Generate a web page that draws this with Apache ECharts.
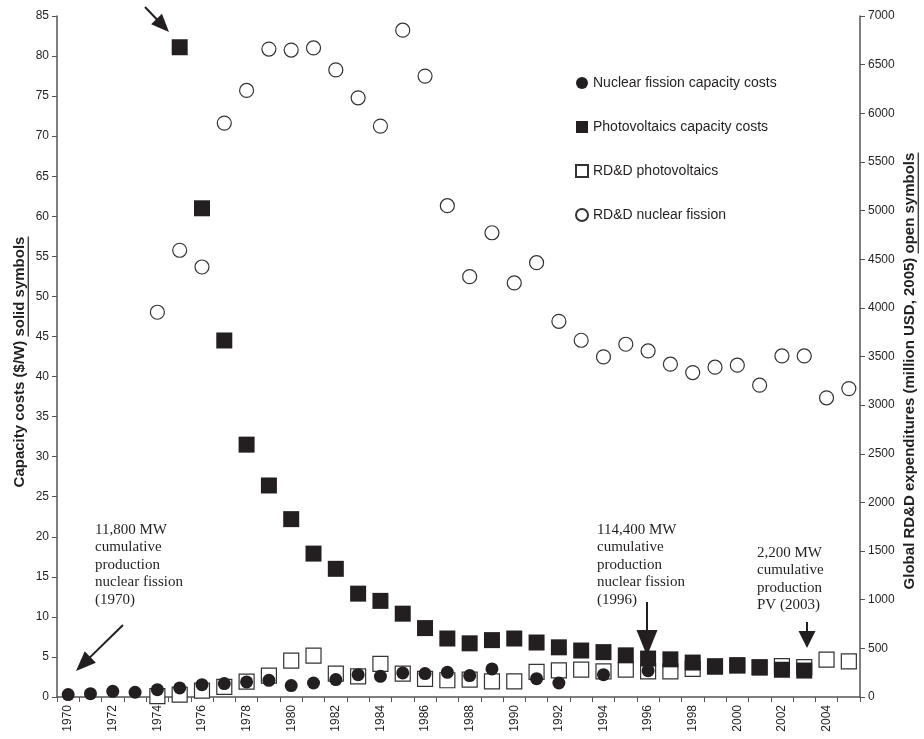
<!DOCTYPE html>
<html>
<head>
<meta charset="utf-8">
<script src="https://cdn.jsdelivr.net/npm/echarts@6/dist/echarts.min.js"></script>
<style>
html,body{margin:0;padding:0;background:#fff;}
#chart{width:924px;height:739px;}
</style>
</head>
<body>
<div id="chart"></div>
<script>
const years = ['1970','1971','1972','1973','1974','1975','1976','1977','1978','1979',
  '1980','1981','1982','1983','1984','1985','1986','1987','1988','1989',
  '1990','1991','1992','1993','1994','1995','1996','1997','1998','1999',
  '2000','2001','2002','2003','2004','2005'];

// Capacity costs ($/W), left axis
const nuclearCost = [0.3,0.42,0.71,0.59,0.92,1.13,1.54,1.67,1.88,2.08,
  1.42,1.75,2.17,2.79,2.58,3.0,2.92,3.08,2.67,3.5,
  null,2.29,1.75,null,2.79,null,3.29,null,null,null,
  null,null,null,null,null,null];
const pvCost = [null,null,null,null,null,81.1,61.0,44.5,31.5,26.4,
  22.2,17.9,16.0,12.9,12.0,10.4,8.6,7.3,6.7,7.1,
  7.3,6.8,6.2,5.8,5.6,5.2,4.8,4.7,4.3,3.8,
  3.95,3.7,3.4,3.3,null,null];

// Global RD&D expenditures (million USD 2005), right axis
const pvRDD = [null,null,null,null,10,25,66,104,158,220,
  374,425,240,213,340,240,186,172,179,161,
  161,258,274,281,264,281,264,264,290,315,
  325,305,317,307,384,367];
const nuclearRDD = [null,null,null,null,3955,4592,4420,5899,6235,6660,
  6650,6672,6446,6159,5868,6854,6382,5050,4321,4772,
  4256,4464,3862,3667,3496,3626,3557,3421,3335,3390,
  3411,3205,3506,3506,3075,3170];

const leftTicks = {min:0, max:85, interval:5};
const rightTicks = {min:0, max:7000, interval:500};

const seriesNames = ['Nuclear fission capacity costs','Photovoltaics capacity costs','RD&D photovoltaics','RD&D nuclear fission'];
const leftName = ['Capacity costs ($/W) ', 'solid symbols'];
const rightName = ['Global RD&D expenditures (million USD, 2005) ', 'open symbols'];

const annotations = [
  {text:'11,800 MW\ncumulative\nproduction\nnuclear fission\n(1970)', x:95, y:521},
  {text:'114,400 MW\ncumulative\nproduction\nnuclear fission\n(1996)', x:597, y:521},
  {text:'2,200 MW\ncumulative\nproduction\nPV (2003)', x:757, y:544}
];
const arrows = [
  {from:[123,625], to:[76,671], len:20, w:16},
  {from:[647,602], to:[647,656], len:26, w:21},
  {from:[807,622], to:[807,648], len:17, w:17},
  {from:[145,7], to:[169,32], len:18, w:15}
];

const INK = '#231f20';
const serif = '"Liberation Serif", "Times New Roman", serif';
const sans = '"Liberation Sans", Arial, sans-serif';
const NAME_SIZE = 15;
const GRID = {left:57, right:64, top:16, bottom:42};

function arrowGraphics(a){
  const dx = a.to[0]-a.from[0], dy = a.to[1]-a.from[1];
  const L = Math.sqrt(dx*dx+dy*dy);
  const ux = dx/L, uy = dy/L;
  const bx = a.to[0]-ux*a.len, by = a.to[1]-uy*a.len;
  const px = -uy*a.w/2, py = ux*a.w/2;
  return [
    {type:'line', shape:{x1:a.from[0], y1:a.from[1], x2:bx+ux*2, y2:by+uy*2}, style:{stroke:INK, lineWidth:2}},
    {type:'polygon', shape:{points:[[a.to[0],a.to[1]],[bx+px,by+py],[bx-px,by-py]]}, style:{fill:INK}}
  ];
}

// measure text for underline placement
const mctx = document.createElement('canvas').getContext('2d');
mctx.font = 'bold ' + NAME_SIZE + 'px ' + sans;
function tw(s){ return mctx.measureText(s).width; }

const graphics = [];
annotations.forEach(t=>{
  graphics.push({type:'text', left:t.x, top:t.y, style:{text:t.text, font:'15px '+serif, fill:INK, lineHeight:17.5}});
});
arrows.forEach(a=>{ arrowGraphics(a).forEach(g=>graphics.push(g)); });

// axis titles drawn as rotated text with underline on the second part
function axisTitle(parts, cx, cy){
  const full = parts[0] + parts[1];
  const total = tw(full), wu = tw(parts[1]);
  const topY = cy - total/2;
  graphics.push({type:'text', x:cx, y:cy, rotation:Math.PI/2,
    style:{text:full, font:'bold '+NAME_SIZE+'px '+sans, fill:INK, align:'center', verticalAlign:'middle'}});
  const ux = cx + NAME_SIZE*0.55;
  graphics.push({type:'line', shape:{x1:ux, y1:topY, x2:ux, y2:topY+wu}, style:{stroke:INK, lineWidth:1.2}});
}
axisTitle(leftName, 20, 362);
axisTitle(rightName, 910, 371);

const chart = echarts.init(document.getElementById('chart'));
const axisLabelStyle = {color:INK, fontSize:12, fontFamily:sans};
chart.setOption({
  animation:false,
  backgroundColor:'#fff',
  grid:Object.assign({outerBoundsMode:'none', containLabel:false}, GRID),
  legend:{
    orient:'vertical', left:570, top:71, itemGap:30, itemWidth:12, itemHeight:12,
    data:seriesNames,
    textStyle:{color:INK, fontSize:14, fontFamily:sans}
  },
  xAxis:{
    type:'category', data:years, boundaryGap:true,
    axisLine:{lineStyle:{color:'#555', width:1.5}},
    axisTick:{show:true, interval:0, length:5, lineStyle:{color:'#555'}},
    axisLabel:Object.assign({rotate:90, interval:1, margin:8}, axisLabelStyle),
    splitLine:{show:false}
  },
  yAxis:[
    {type:'value', min:leftTicks.min, max:leftTicks.max, interval:leftTicks.interval, position:'left',
     axisLine:{show:true, lineStyle:{color:'#555', width:1.5}},
     axisTick:{show:true, length:5, lineStyle:{color:'#555'}},
     axisLabel:Object.assign({margin:8}, axisLabelStyle),
     splitLine:{show:false}},
    {type:'value', min:rightTicks.min, max:rightTicks.max, interval:rightTicks.interval, position:'right',
     axisLine:{show:true, lineStyle:{color:'#555', width:1.5}},
     axisTick:{show:true, length:5, lineStyle:{color:'#555'}},
     axisLabel:Object.assign({margin:8, formatter:function(v){return String(v);}}, axisLabelStyle),
     splitLine:{show:false}}
  ],
  series:[
    {name:seriesNames[2], type:'scatter', yAxisIndex:1, data:pvRDD, symbol:'rect', symbolSize:15, z:2,
     itemStyle:{color:'#fff', borderColor:'#333', borderWidth:1.2, opacity:1}},
    {name:seriesNames[3], type:'scatter', yAxisIndex:1, data:nuclearRDD, symbol:'circle', symbolSize:14, z:3,
     itemStyle:{color:'#fff', borderColor:'#333', borderWidth:1.2, opacity:1}},
    {name:seriesNames[0], type:'scatter', yAxisIndex:0, data:nuclearCost, symbol:'circle', symbolSize:13, z:4,
     itemStyle:{color:INK, opacity:1}},
    {name:seriesNames[1], type:'scatter', yAxisIndex:0, data:pvCost, symbol:'rect', symbolSize:16, z:5,
     itemStyle:{color:INK, opacity:1}}
  ],
  graphic:graphics
});
</script>
</body>
</html>
